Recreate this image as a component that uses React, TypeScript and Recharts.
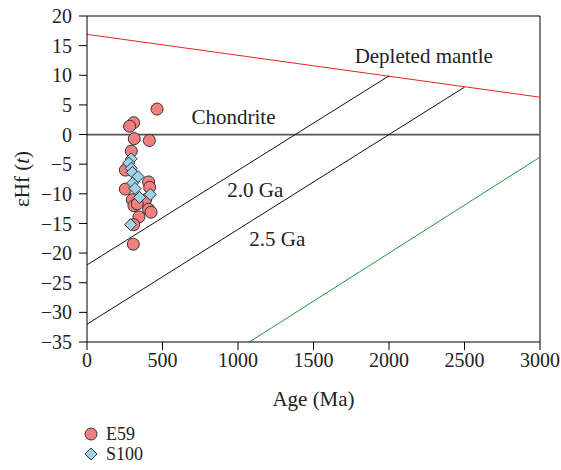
import {
  ComposedChart,
  Scatter,
  XAxis,
  YAxis,
  ReferenceLine,
  ReferenceDot,
  Legend,
} from "recharts";

const e59X = [464, 309, 282, 313, 413, 293, 254, 408, 415, 254, 300, 388, 311, 333, 408, 424, 344, 309, 307];
const e59Y = [4.3, 2.0, 1.4, -0.7, -1.0, -2.8, -6.0, -8.0, -8.9, -9.2, -11.0, -11.0, -12.0, -11.7, -12.6, -13.1, -13.9, -15.2, -18.5];
const s100X = [293, 276, 293, 300, 338, 302, 318, 419, 348, 289];
const s100Y = [-4.1, -4.8, -5.7, -6.4, -7.1, -8.2, -9.1, -10.1, -10.6, -15.2];

const xTicks = [0, 500, 1000, 1500, 2000, 2500, 3000];
const yTicks = [20, 15, 10, 5, 0, -5, -10, -15, -20, -25, -30, -35];

const depletedMantle = [{ x: 0, y: 16.9 }, { x: 3000, y: 6.3 }];
const line20 = [{ x: 0, y: -22 }, { x: 2000, y: 9.9 }];
const line25 = [{ x: 0, y: -32 }, { x: 2500, y: 8.0 }];
const greenLine = [{ x: 1075, y: -35 }, { x: 3000, y: -3.8 }];

const labels = [
  { x: 2230, y: 13.4, text: "Depleted mantle" },
  { x: 970, y: 3.1, text: "Chondrite" },
  { x: 1115, y: -9.2, text: "2.0 Ga" },
  { x: 1260, y: -17.6, text: "2.5 Ga" },
];

const e59 = e59X.map((x, i) => ({ x, y: e59Y[i] }));
const s100 = s100X.map((x, i) => ({ x, y: s100Y[i] }));

const font = "'Liberation Serif', 'DejaVu Serif', serif";
const ink = "#222";
const minus = (v: number) => String(v).replace("-", "\u2212");

const Circle = (p: any) => (
  <circle cx={p.cx} cy={p.cy} r={6} fill="#f08080" stroke="#333" strokeWidth={1} />
);
const Diamond = (p: any) => (
  <path
    d={`M${p.cx},${p.cy - 6}L${p.cx + 6},${p.cy}L${p.cx},${p.cy + 6}L${p.cx - 6},${p.cy}Z`}
    fill="#9fd3ea"
    stroke="#333"
    strokeWidth={1}
  />
);

// y label with italic t
const YLabel = (p: any) => {
  const vb = p.viewBox;
  const cy = vb.y + vb.height / 2;
  return (
    <text
      x={22}
      y={cy}
      transform={`rotate(-90, 22, ${cy})`}
      textAnchor="middle"
      dominantBaseline="central"
      fontSize={21}
      fill={ink}
      fontFamily={font}
    >
      {"\u03b5Hf ("}
      <tspan fontStyle="italic">t</tspan>
      {")"}
    </text>
  );
};

const LegendBox = () => (
  <div style={{ fontFamily: font, fontSize: 18, color: ink, paddingLeft: 83, lineHeight: "20px" }}>
    <div style={{ display: "flex", alignItems: "center", height: 20 }}>
      <svg width={16} height={16} style={{ marginRight: 7 }}>
        <circle cx={8} cy={8} r={6} fill="#f08080" stroke="#333" />
      </svg>
      E59
    </div>
    <div style={{ display: "flex", alignItems: "center", height: 20 }}>
      <svg width={16} height={16} style={{ marginRight: 7 }}>
        <path d="M8,2L14,8L8,14L2,8Z" fill="#9fd3ea" stroke="#333" />
      </svg>
      S100
    </div>
  </div>
);

export default function App() {
  return (
    <div style={{ position: "absolute", left: 0, top: 0, background: "#fff" }}>
      <ComposedChart
        width={561}
        height={470}
        margin={{ top: 16, right: 21, bottom: 6, left: 0 }}
        style={{ fontFamily: font }}
      >
        <XAxis
          type="number"
          dataKey="x"
          domain={[0, 3000]}
          ticks={xTicks}
          tick={{ fontSize: 20, fill: ink }}
          tickSize={8}
          tickMargin={3}
          stroke="#000"
          height={82}
          label={{ value: "Age (Ma)", position: "insideTop", offset: 49, fontSize: 21, fill: ink }}
          allowDataOverflow
        />
        <YAxis
          type="number"
          dataKey="y"
          domain={[-35, 20]}
          ticks={yTicks}
          tickFormatter={minus}
          tick={{ fontSize: 20, fill: ink }}
          tickSize={8}
          tickMargin={7}
          stroke="#000"
          width={87}
          label={<YLabel />}
          allowDataOverflow
        />
        <Legend verticalAlign="bottom" align="left" content={<LegendBox />} />
        <ReferenceLine y={20} stroke="#000" />
        <ReferenceLine x={3000} stroke="#000" />
        <ReferenceLine y={0} stroke="#555" strokeWidth={1.8} />
        <ReferenceLine segment={depletedMantle} stroke="#e8251f" />
        <ReferenceLine segment={line20} stroke="#111" />
        <ReferenceLine segment={line25} stroke="#111" />
        <ReferenceLine segment={greenLine} stroke="#1a9a3a" />
        {labels.map((l) => (
          <ReferenceDot
            key={l.text}
            x={l.x}
            y={l.y}
            r={0}
            stroke="none"
            label={{ value: l.text, position: "center", fontSize: 21, fill: ink }}
          />
        ))}
        <Scatter data={e59} shape={Circle} isAnimationActive={false} legendType="circle" name="E59" />
        <Scatter data={s100} shape={Diamond} isAnimationActive={false} legendType="diamond" name="S100" />
      </ComposedChart>
    </div>
  );
}
